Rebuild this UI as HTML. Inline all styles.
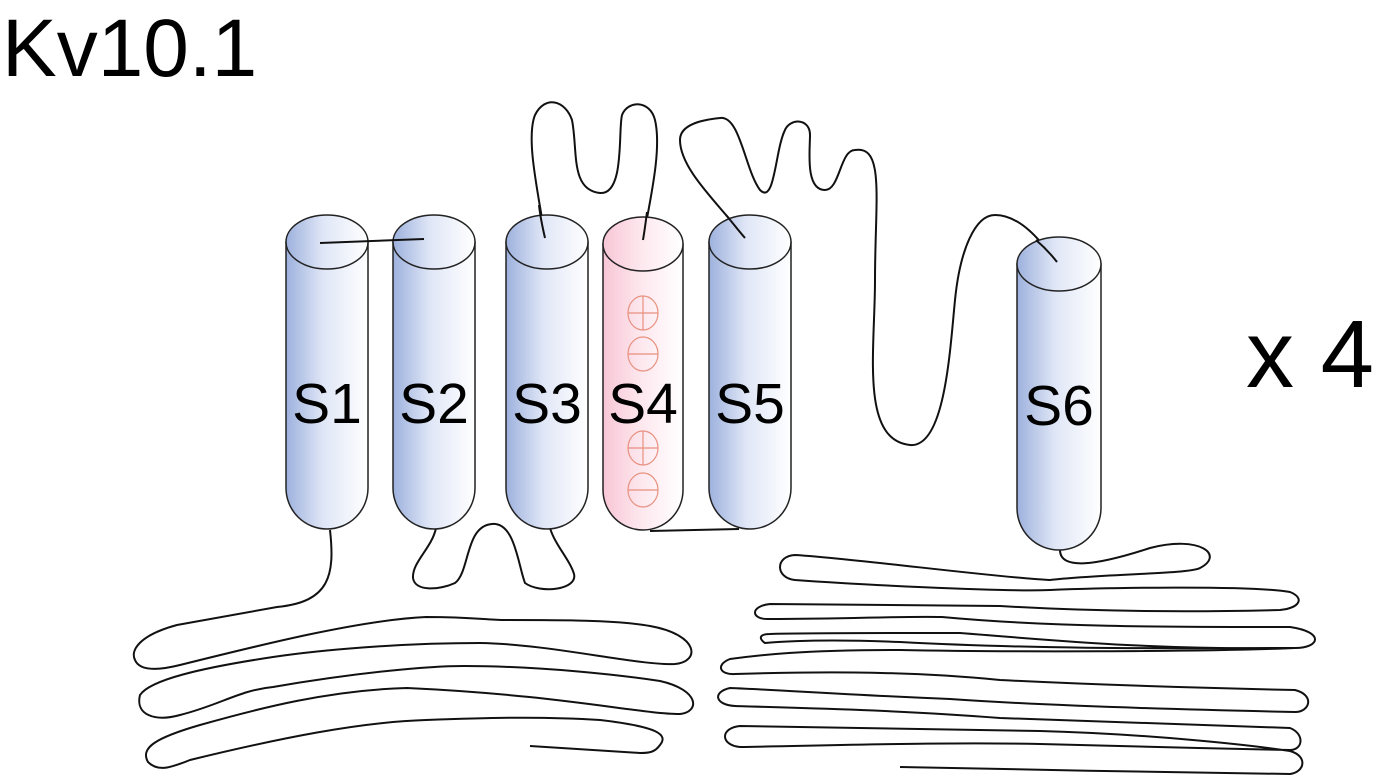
<!DOCTYPE html>
<html><head><meta charset="utf-8"><style>
html,body{margin:0;padding:0;background:#fff;}
svg{display:block;}
text{font-family:"Liberation Sans",Arial,sans-serif;fill:#000;}
</style></head><body>
<svg width="1382" height="778" viewBox="0 0 1382 778" xmlns="http://www.w3.org/2000/svg">
<defs>
<linearGradient id="b" x1="0" x2="1" y1="0" y2="0"><stop offset="0" stop-color="#9db1dd"/><stop offset="0.45" stop-color="#dfe6f6"/><stop offset="1" stop-color="#ffffff"/></linearGradient>
<linearGradient id="p" x1="0" x2="1" y1="0" y2="0"><stop offset="0" stop-color="#f8c6d6"/><stop offset="0.5" stop-color="#fde9ef"/><stop offset="1" stop-color="#ffffff"/></linearGradient>
</defs>
<text x="2" y="76" font-size="82">Kv10.1</text>
<text x="1246" y="387" font-size="96">x 4</text>
<g fill="none" stroke="#111" stroke-width="2">
<path d="M545,238 C540,200 525,140 535,115 C545,95 565,100 572,120 C578,150 570,190 600,193 C625,195 618,130 622,115 C628,100 650,100 655,120 C662,150 650,200 643,240"/>
<path d="M745,238 C720,205 680,170 680,140 C680,125 700,120 720,118 C740,115 745,170 760,190 C775,205 775,150 785,130 C790,118 810,118 810,135 C810,150 805,190 825,190 C840,190 840,150 855,150 C885,145 875,200 875,280 C875,350 860,440 910,445 C945,448 950,350 955,300 C960,250 975,215 995,215 C1020,215 1040,240 1057,262"/>
<path d="M436,528 C432,548 412,562 413,578 C415,592 440,590 455,583 C470,572 465,526 492,524 C515,522 518,565 525,583 C540,594 578,590 574,574 C570,560 555,545 550,528"/>
<!-- left lower -->
<path d="M330,530 C335,575 330,602 277,607 L177,625 C140,635 130,650 135,660 C140,672 160,670 180,665 C260,645 360,620 426,617 C470,617 490,620 503,620 C560,620 617,620 650,626 C700,635 700,662 675,664 C640,666 550,644 480,643 C400,643 320,650 273,657 C200,668 150,680 140,695 C135,715 155,722 180,715 C220,705 240,690 273,687 C360,672 430,666 464,666 C540,666 620,675 660,681 C700,690 700,712 680,714 C640,714 560,695 407,688 C330,690 260,708 200,725 C155,738 140,748 148,762 C158,772 170,768 190,760 C280,738 360,722 426,720 C480,718 540,716 600,720 C660,727 668,735 660,745 C655,752 650,753 640,753 L530,746"/>
<!-- right lower -->
<path d="M1060,550 C1060,570 1095,566 1150,548 C1200,535 1225,555 1200,568 C1190,574 1100,574 1050,580 C1000,578 850,558 795,555 C775,556 775,578 795,580 C850,584 1000,592 1050,590 C1100,588 1250,585 1290,592 C1305,598 1300,608 1280,610 C1200,612 1100,612 1000,606 C950,606 900,605 770,604 C750,606 750,620 770,619 C850,619 900,616 942,617 C1050,627 1160,627 1290,627 C1325,632 1320,648 1295,648 C1200,648 1050,650 900,642 C850,640 800,640 765,643 C758,638 760,634 770,634 C800,633 850,633 960,633 C1050,640 1150,650 1290,648"/>
<path d="M1295,648 C1200,652 1000,652 900,650 C800,650 760,655 730,659 C715,665 720,675 735,674 C800,672 900,670 1000,680 C1100,685 1200,688 1295,690 C1315,695 1310,712 1295,712 C1200,710 1050,706 950,699 C850,695 780,690 730,688 C712,692 715,705 735,706 C800,708 900,710 1000,718 C1100,722 1200,725 1290,728 C1305,734 1303,750 1290,750 C1200,748 1050,745 1040,744 C950,742 850,745 740,747 C720,745 720,728 740,726 C850,728 950,730 1040,731 C1150,734 1250,745 1290,751 C1308,756 1305,772 1290,774 C1200,772 1000,770 900,767"/>
<line x1="650" y1="531" x2="739" y2="529"/>
</g>
<g stroke="#222" stroke-width="1.5">
<path d="M286,242 L286,488 A41,41 0 0 0 368,488 L368,242 Z" fill="url(#b)"/>
<ellipse cx="327" cy="242" rx="41" ry="27" fill="url(#b)"/>
<path d="M393,242 L393,488 A41,41 0 0 0 475,488 L475,242 Z" fill="url(#b)"/>
<ellipse cx="434" cy="242" rx="41" ry="27" fill="url(#b)"/>
<path d="M506,242 L506,488 A41,41 0 0 0 588,488 L588,242 Z" fill="url(#b)"/>
<ellipse cx="547" cy="242" rx="41" ry="27" fill="url(#b)"/>
<path d="M603,244 L603,490 A40,40 0 0 0 683,490 L683,244 Z" fill="url(#p)"/>
<ellipse cx="643" cy="244" rx="40" ry="27" fill="url(#p)"/>
<path d="M709,242 L709,488 A41,41 0 0 0 791,488 L791,242 Z" fill="url(#b)"/>
<ellipse cx="750" cy="242" rx="41" ry="27" fill="url(#b)"/>
<path d="M1017,264 L1017,508 A42,42 0 0 0 1101,508 L1101,264 Z" fill="url(#b)"/>
<ellipse cx="1059" cy="264" rx="42" ry="27" fill="url(#b)"/>
</g>
<g fill="none" stroke="#111" stroke-width="2">
<path d="M320,243 L424,239"/>
<path d="M545,238 C542,225 540,215 539,205"/>
<path d="M643,240 C645,228 646,220 647,212"/>
<path d="M745,238 C738,230 732,222 726,215"/>
<path d="M1057,262 C1050,253 1043,246 1036,240"/>
</g>
<g fill="none" stroke="#e8907e" stroke-width="1.2">
<ellipse cx="643" cy="313" rx="15" ry="17"/><line x1="628" y1="313" x2="658" y2="313"/><line x1="643" y1="296" x2="643" y2="330"/>
<ellipse cx="643" cy="354" rx="15" ry="17"/><line x1="628" y1="354" x2="658" y2="354"/>
<ellipse cx="643" cy="448" rx="15" ry="17"/><line x1="628" y1="448" x2="658" y2="448"/><line x1="643" y1="431" x2="643" y2="465"/>
<ellipse cx="643" cy="490" rx="15" ry="17"/><line x1="628" y1="490" x2="658" y2="490"/>
</g>
<g font-size="57" text-anchor="middle">
<text x="327" y="423">S1</text>
<text x="434" y="423">S2</text>
<text x="547" y="423">S3</text>
<text x="643" y="423">S4</text>
<text x="750" y="423">S5</text>
<text x="1059" y="425">S6</text>
</g>
</svg>
</body></html>
